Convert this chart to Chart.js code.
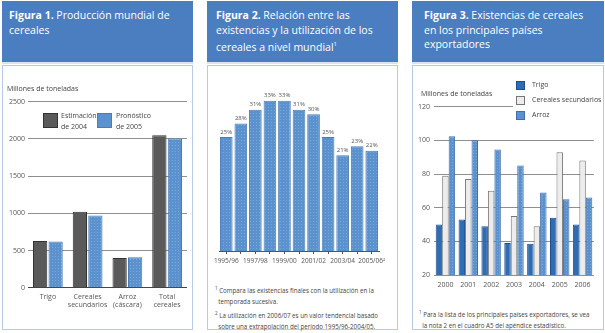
<!DOCTYPE html>
<html>
<head>
<meta charset="utf-8">
<script src="https://cdn.jsdelivr.net/npm/chart.js@4/dist/chart.umd.min.js"></script>
<style>
  body { margin: 0; width: 605px; height: 333px; background: #fff; position: relative; overflow: hidden; font-family: "Open Sans", sans-serif; }
  .head { position: absolute; top: 1px; height: 61px; background: #4b7dc1; color: #fff; font-size: 10.5px; line-height: 14.5px; padding: 7px 0 0 7px; box-sizing: border-box; white-space: nowrap; }
  .head b { font-weight: 700; }
  .sep { position: absolute; top: 62px; height: 2px; background: #d9e4f2; }
  .box { position: absolute; top: 65px; height: 265px; border: 1px solid #b7cbe6; box-sizing: border-box; background: #fff; }
  .t { position: absolute; color: #444; font-size: 7px; line-height: 10.5px; white-space: nowrap; }
  .fn { font-size: 6.2px; }
  canvas { position: absolute; }
  .sw { position: absolute; box-sizing: border-box; }
</style>
</head>
<body>
<!-- panel 1 -->
<div class="head" style="left:2px;width:191px"><b>Figura 1.</b> Producción mundial de<br>cereales</div>
<div class="sep" style="left:2px;width:191px"></div>
<div class="box" style="left:2px;width:191px"></div>
<!-- panel 2 -->
<div class="head" style="left:207px;width:191px;padding-left:9px"><b>Figura 2.</b> Relación entre las<br>existencias y la utilización de los<br>cereales a nivel mundial<sup style="font-size:6px">1</sup></div>
<div class="sep" style="left:207px;width:191px"></div>
<div class="box" style="left:207px;width:191px"></div>
<!-- panel 3 -->
<div class="head" style="left:412px;width:192px;padding-left:12px"><b>Figura 3.</b> Existencias de cereales<br>en los principales países<br>exportadores</div>
<div class="sep" style="left:412px;width:192px"></div>
<div class="box" style="left:412px;width:192px"></div>

<canvas id="fig1" width="195" height="235" style="left:0px;top:90px"></canvas>
<canvas id="fig2" width="192" height="205" style="left:207px;top:70px"></canvas>
<canvas id="fig3" width="192" height="200" style="left:412px;top:95px"></canvas>

<div class="t" style="left:7px;top:84px">Millones de toneladas</div>
<div class="sw" id="sw1a" style="left:43px;top:113px;width:15px;height:15px;"></div>
<div class="t" style="left:61px;top:111px">Estimación<br>de 2004</div>
<div class="sw" id="sw1b" style="left:97px;top:113px;width:15px;height:15px;"></div>
<div class="t" style="left:116px;top:111px">Pronóstico<br>de 2005</div>

<div class="t fn" style="left:215px;top:283px;line-height:11.3px"><sup style="font-size:4.5px">1</sup> Compara las existencias finales con la utilización en la<br>&nbsp;&nbsp;temporada sucesiva.<br><sup style="font-size:4.5px">2</sup> La utilización en 2006/07 es un valor tendencial basado<br>&nbsp;&nbsp;sobre una extrapolación del período 1995/96-2004/05.</div>

<div class="t" style="left:421px;top:89px">Millones de toneladas</div>
<div style="position:absolute;left:513px;top:78px;width:88px;height:44px;background:#fff"></div>
<div class="sw" id="sw3a" style="left:516px;top:81px;width:9px;height:9px;"></div>
<div class="t" style="left:532px;top:80px">Trigo</div>
<div class="sw" id="sw3b" style="left:516px;top:96px;width:9px;height:9px;"></div>
<div class="t" style="left:532px;top:95px">Cereales secundarios</div>
<div class="sw" id="sw3c" style="left:516px;top:111px;width:9px;height:9px;"></div>
<div class="t" style="left:532px;top:110px">Arroz</div>

<div class="t fn" style="left:419px;top:307px;line-height:11px"><sup style="font-size:4.5px">1</sup> Para la lista de los principales países exportadores, se vea<br>&nbsp;&nbsp;la nota 2 en el cuadro A5 del apéndice estadístico.</div>

<script>
// Figura 1 data
const fig1Categories = [["Trigo"], ["Cereales", "secundarios"], ["Arroz", "(cáscara)"], ["Total", "cereales"]];
const fig1Est2004 = [628, 1022, 400, 2050];
const fig1Pron2005 = [622, 970, 410, 2005];
const fig1Ticks = [0, 500, 1000, 1500, 2000, 2500];

// Figura 2 data
const fig2Seasons = ["1995/96", "1996/97", "1997/98", "1998/99", "1999/00", "2000/01", "2001/02", "2002/03", "2003/04", "2004/05", "2005/06²"];
const fig2Ratio = [25, 28, 31, 33, 33, 31, 30, 25, 21, 23, 22];

// Figura 3 data
const fig3Years = ["2000", "2001", "2002", "2003", "2004", "2005", "2006"];
const fig3Trigo = [50, 53, 49, 39, 38.5, 54, 50];
const fig3Secundarios = [79, 77, 70, 55, 49, 93, 88];
const fig3Arroz = [102.5, 100, 94.5, 85, 69, 65, 66];
const fig3Ticks = [20, 40, 60, 80, 100, 120];

const tickFont = { family: "Open Sans", size: 7 };
const textGrey = "#555";

// dotted blue texture like the print
function dotted(base, dot) {
  const c = document.createElement("canvas");
  c.width = 3; c.height = 3;
  const g = c.getContext("2d");
  g.fillStyle = base; g.fillRect(0, 0, 3, 3);
  g.fillStyle = dot; g.fillRect(1, 1, 1, 1);
  return g.createPattern(c, "repeat");
}
const bluePat = dotted("#5b91cd", "#7aa8dc");

document.getElementById("sw1a").style.cssText += "background:#5a5a5a;border:1px solid #333";
document.getElementById("sw1b").style.cssText += "background:#5b91cd;border:1px solid #4a7cb8";
document.getElementById("sw3a").style.cssText += "background:#2e6db3;border:1px solid #1d4f8c";
document.getElementById("sw3b").style.cssText += "background:#ececec;border:1px solid #777";
document.getElementById("sw3c").style.cssText += "background:#5b91cd;border:1px solid #3f70ad";

// Figura 1
new Chart(document.getElementById("fig1"), {
  type: "bar",
  data: {
    labels: fig1Categories,
    datasets: [
      { data: fig1Est2004, backgroundColor: "#5a5a5a", borderColor: "#333", borderWidth: 1 },
      { data: fig1Pron2005, backgroundColor: bluePat, borderColor: "#4a7cb8", borderWidth: 1 }
    ]
  },
  options: {
    responsive: false, animation: false,
    layout: { padding: { top: 11.7, right: 8, left: 0, bottom: 0 } },
    datasets: { bar: { categoryPercentage: 0.78, barPercentage: 0.92 } },
    plugins: { legend: { display: false }, tooltip: { enabled: false } },
    scales: {
      x: {
        grid: { display: false, drawTicks: false }, border: { display: false },
        ticks: { font: tickFont, color: textGrey, padding: 5, maxRotation: 0, autoSkip: false },
        afterFit: s => { s.height = 37.3; }
      },
      y: {
        min: 0, max: 2500,
        afterBuildTicks: s => { s.ticks = fig1Ticks.map(v => ({ value: v })); },
        grid: { drawTicks: false, color: c => c.tick && c.tick.value === 0 ? "#444" : "#8f8f8f" },
        border: { display: false },
        ticks: { font: tickFont, color: textGrey, padding: 3, callback: v => String(v) },
        afterFit: s => { s.width = 28; }
      }
    }
  }
});

// value labels above bars for Figura 2
const pctLabels = {
  id: "pctLabels",
  afterDatasetsDraw(chart) {
    const ctx = chart.ctx;
    const meta = chart.getDatasetMeta(0);
    ctx.save();
    ctx.font = "6px 'Open Sans'";
    ctx.fillStyle = "#555";
    ctx.textAlign = "center";
    ctx.textBaseline = "bottom";
    meta.data.forEach((bar, i) => {
      ctx.fillText(fig2Ratio[i] + "%", bar.x, bar.y - 2);
    });
    ctx.restore();
  }
};

new Chart(document.getElementById("fig2"), {
  type: "bar",
  data: {
    labels: fig2Seasons,
    datasets: [{ data: fig2Ratio, backgroundColor: bluePat, borderColor: "#4a7cb8", borderWidth: 1 }]
  },
  options: {
    responsive: false, animation: false,
    layout: { padding: { top: 17, right: 20, left: 12, bottom: 0 } },
    datasets: { bar: { categoryPercentage: 1, barPercentage: 0.87 } },
    plugins: { legend: { display: false }, tooltip: { enabled: false } },
    scales: {
      x: {
        grid: { drawOnChartArea: false, offset: false, tickLength: 3, color: "#555" },
        border: { color: "#555" },
        ticks: {
          font: { family: "Open Sans", size: 6.5 }, color: textGrey, padding: 3, maxRotation: 0, autoSkip: false,
          callback: (v, i) => i % 2 === 0 ? fig2Seasons[i] : ""
        },
        afterFit: s => { s.height = 24; }
      },
      y: { display: false, min: 0, max: 36 }
    }
  },
  plugins: [pctLabels]
});

// Figura 3
new Chart(document.getElementById("fig3"), {
  type: "bar",
  data: {
    labels: fig3Years,
    datasets: [
      { label: "Trigo", data: fig3Trigo, backgroundColor: "#2e6db3", borderColor: "#1d4f8c", borderWidth: 1 },
      { label: "Cereales secundarios", data: fig3Secundarios, backgroundColor: "#ececec", borderColor: "#777", borderWidth: 1 },
      { label: "Arroz", data: fig3Arroz, backgroundColor: bluePat, borderColor: "#3f70ad", borderWidth: 1 }
    ]
  },
  options: {
    responsive: false, animation: false,
    layout: { padding: { top: 11.7, right: 10, left: 0, bottom: 0 } },
    datasets: { bar: { categoryPercentage: 0.85, barPercentage: 1 } },
    plugins: { legend: { display: false }, tooltip: { enabled: false } },
    scales: {
      x: {
        grid: { display: false, drawTicks: false }, border: { display: false },
        ticks: { font: tickFont, color: textGrey, padding: 6, maxRotation: 0, autoSkip: false },
        afterFit: s => { s.height = 20; }
      },
      y: {
        min: 20, max: 120,
        afterBuildTicks: s => { s.ticks = fig3Ticks.map(v => ({ value: v })); },
        grid: { drawTicks: false, color: "#8f8f8f" },
        border: { display: false },
        ticks: { font: tickFont, color: textGrey, padding: 4 },
        afterFit: s => { s.width = 22; }
      }
    }
  }
});
</script>
</body>
</html>
